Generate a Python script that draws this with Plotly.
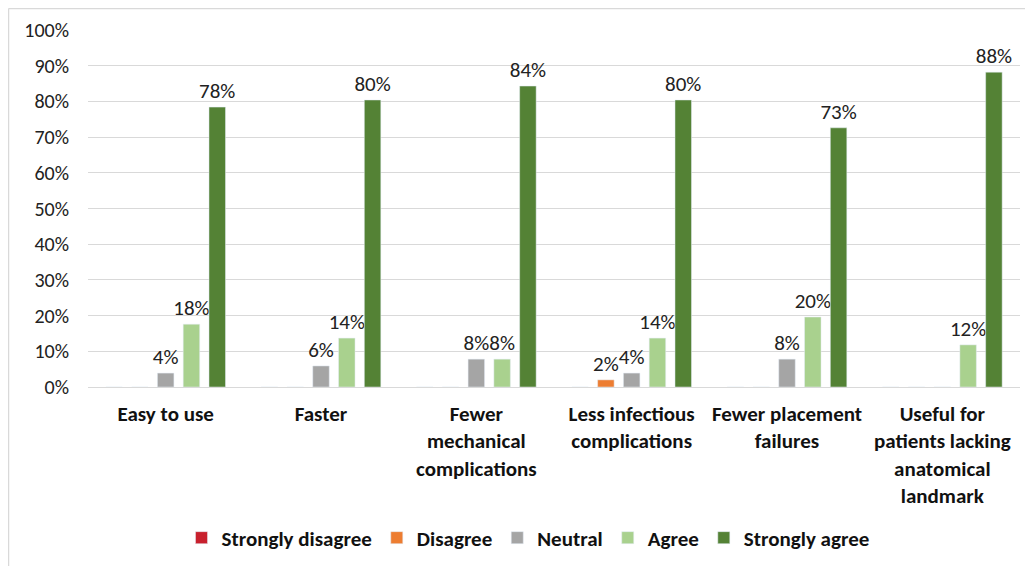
import plotly.graph_objects as go

categories = ["Easy to use", "Faster", "Fewer<br>mechanical<br>complications",
              "Less infectious<br>complications", "Fewer placement<br>failures",
              "Useful for<br>patients lacking<br>anatomical<br>landmark"]
series_names = ["Strongly disagree", "Disagree", "Neutral", "Agree", "Strongly agree"]
strongly_disagree = [0, 0, 0, 0, 0, 0]
disagree = [0, 0, 0, 0.020, 0, 0]
neutral = [0.039, 0.059, 0.078, 0.039, 0.078, 0]
agree = [0.176, 0.137, 0.078, 0.137, 0.196, 0.118]
strongly_agree = [0.784, 0.804, 0.843, 0.804, 0.726, 0.882]
colors = ["#C8202D", "#ED7D31", "#A5A5A5", "#A9D18E", "#548235"]

FONT = "Carlito, Lato, Liberation Sans, sans-serif"

fig = go.Figure()
for name, vals, col in zip(series_names,
                           [strongly_disagree, disagree, neutral, agree, strongly_agree],
                           colors):
    fig.add_trace(go.Bar(
        x=categories, y=vals, name=name, marker_color=col,
        text=[f"{int(v*100 + 0.5)}%" if v > 0 else "" for v in vals],
        textposition="outside", constraintext="none", cliponaxis=False,
        textfont=dict(size=21, color="#222222", family=FONT),
    ))

# page has an 8px body margin; page pixel -> figure pixel = page - 8
OFF = 8
W, H = 1033, 566
ml, mr, mt, mb = 88 - OFF, W - (1020 - OFF), 30 - OFF, H - (387 - OFF)
pw, ph = W - ml - mr, H - mt - mb
def px(x): return (x - OFF - ml) / pw
def py(y): return (H - mb - (y - OFF)) / ph

fig.update_layout(
    width=W, height=H,
    margin=dict(l=ml, r=mr, t=mt, b=mb),
    paper_bgcolor="white", plot_bgcolor="white",
    barmode="group", bargap=0.17, bargroupgap=0.36,
    font=dict(family=FONT, size=20, color="#111111"),
    showlegend=True,
    legend=dict(orientation="h", x=px(528), y=py(538), xanchor="center", yanchor="middle",
                font=dict(size=21, family=FONT, color="#111111", weight="bold"),
                itemwidth=30, traceorder="normal"),
    xaxis=dict(showgrid=False, showline=False, ticks="", automargin=False,
               ticklabelstandoff=12,
               tickfont=dict(size=21, family=FONT, color="#111111", weight="bold")),
    yaxis=dict(range=[0, 1], dtick=0.1, tickformat=".0%", showgrid=True, automargin=False,
               gridcolor="#D9D9D9", gridwidth=1.3, zeroline=True, zerolinecolor="#D9D9D9",
               zerolinewidth=1.3, showline=False, ticks="", ticklen=0,
               ticklabelstandoff=18,
               tickfont=dict(size=20, family=FONT, color="#222222")),
    shapes=[
        dict(type="line", xref="paper", yref="paper", x0=px(8.5), x1=px(1045), y0=py(8.5), y1=py(8.5),
             line=dict(color="#D9D9D9", width=1.5)),
        dict(type="line", xref="paper", yref="paper", x0=px(8.5), x1=px(8.5), y0=py(8.5), y1=py(580),
             line=dict(color="#D9D9D9", width=1.5)),
    ],
)
fig.write_html("out.html")
